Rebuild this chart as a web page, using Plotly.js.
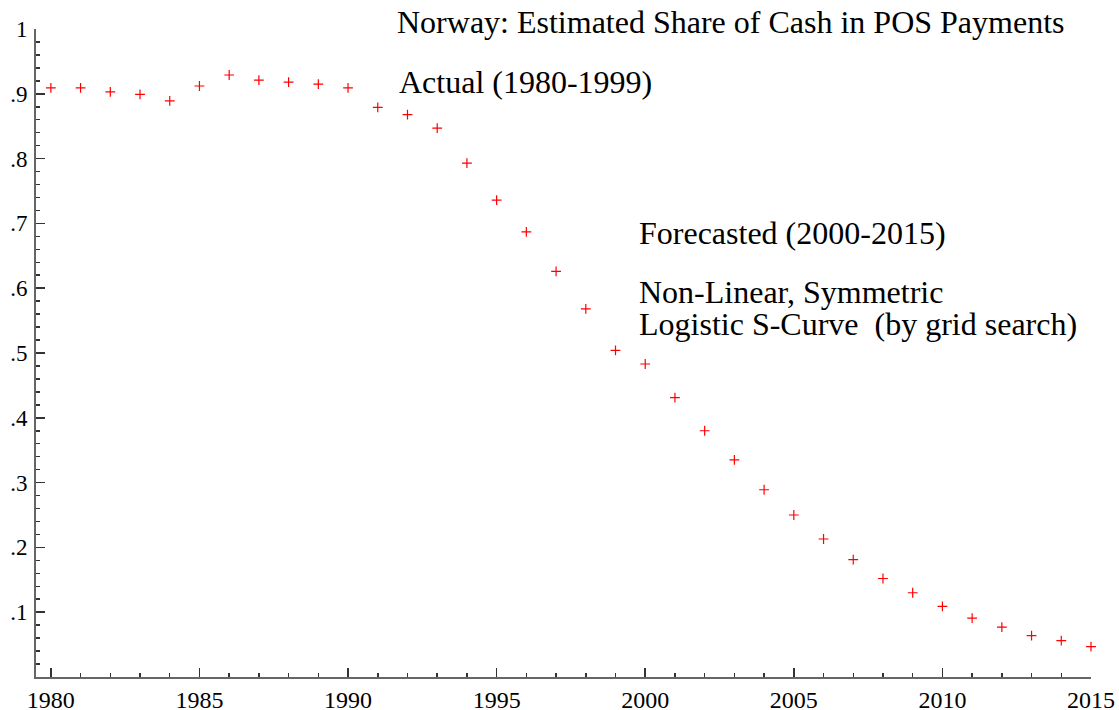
<!DOCTYPE html>
<html>
<head>
<meta charset="utf-8">
<script src="https://cdn.plot.ly/plotly-3.0.1.min.js"></script>
<style>html,body{margin:0;padding:0;background:#fff;}#chart{width:1119px;height:710px;}</style>
</head>
<body>
<div id="chart"></div>
<script>
const actualYears = [1980,1981,1982,1983,1984,1985,1986,1987,1988,1989,1990,1991,1992,1993,1994,1995,1996,1997,1998,1999];
const actualShare = [0.909,0.909,0.903,0.899,0.889,0.912,0.929,0.921,0.918,0.915,0.909,0.879,0.868,0.847,0.793,0.736,0.687,0.626,0.568,0.504];
const forecastYears = [2000,2001,2002,2003,2004,2005,2006,2007,2008,2009,2010,2011,2012,2013,2014,2015];
const forecastShare = [0.483,0.431,0.380,0.335,0.289,0.250,0.213,0.181,0.152,0.130,0.109,0.091,0.077,0.064,0.056,0.047];
const xTickVals = [1980,1985,1990,1995,2000,2005,2010,2015];
const yTickVals = [0.1,0.2,0.3,0.4,0.5,0.6,0.7,0.8,0.9,1];
const yTickText = ['.1','.2','.3','.4','.5','.6','.7','.8','.9','1'];

const FONT = "'Liberation Serif', 'Times New Roman', serif";
const marker = {symbol:'cross-thin', size:7, color:'#ff0000', line:{color:'#ff0000', width:1.2}};

const traces = [
  {x: actualYears, y: actualShare, type:'scatter', mode:'markers', name:'Actual (1980-1999)', marker: marker, cliponaxis:false},
  {x: forecastYears, y: forecastShare, type:'scatter', mode:'markers', name:'Forecasted (2000-2015)', marker: marker, cliponaxis:false}
];

const axisCommon = {
  showgrid:false, zeroline:false, showline:true, linecolor:'#666', linewidth:2,
  ticks:'inside', ticklen:9, tickwidth:1.5, tickcolor:'#333'
};

const layout = {
  width:1119, height:710,
  margin:{l:36, r:28, t:29, b:33},
  paper_bgcolor:'#fff', plot_bgcolor:'#fff',
  showlegend:false,
  font:{family:FONT, color:'#000'},
  title:{text:'Norway: Estimated Share of Cash in POS Payments', font:{family:FONT, size:32, color:'#000'},
         x:397/1119, xanchor:'left', xref:'container', y:1-22/710, yanchor:'middle', yref:'container'},
  xaxis: Object.assign({}, axisCommon, {
    range:[1979.5, 2015], tickmode:'array', tickvals:xTickVals, ticklabelstandoff:0,
    tickfont:{family:FONT, size:24, color:'#000'},
    minor:{dtick:1, tick0:1980, ticks:'inside', ticklen:4, tickwidth:1.5, tickcolor:'#333', showgrid:false}
  }),
  yaxis: Object.assign({}, axisCommon, {
    range:[0, 1], tickmode:'array', tickvals:yTickVals, ticktext:yTickText, ticklabelstandoff:2,
    tickfont:{family:FONT, size:23, color:'#000'},
    minor:{dtick:0.02, tick0:0, ticks:'inside', ticklen:4, tickwidth:1.5, tickcolor:'#333', showgrid:false}
  }),
  annotations:[
    {text:'Actual (1980-1999)', xref:'paper', yref:'paper', x:(397-36)/1055, y:(677-82)/648, xanchor:'left', yanchor:'middle', showarrow:false, font:{family:FONT, size:32, color:'#000'}},
    {text:'Forecasted (2000-2015)', xref:'paper', yref:'paper', x:(637-36)/1055, y:(677-233)/648, xanchor:'left', yanchor:'middle', showarrow:false, font:{family:FONT, size:32, color:'#000'}},
    {text:'Non-Linear, Symmetric', xref:'paper', yref:'paper', x:(637-36)/1055, y:(677-292)/648, xanchor:'left', yanchor:'middle', showarrow:false, font:{family:FONT, size:32, color:'#000'}},
    {text:'Logistic S-Curve&nbsp; (by grid search)', xref:'paper', yref:'paper', x:(637-36)/1055, y:(677-324)/648, xanchor:'left', yanchor:'middle', showarrow:false, font:{family:FONT, size:32, color:'#000'}}
  ]
};

Plotly.newPlot('chart', traces, layout, {displayModeBar:false, staticPlot:true});
</script>
</body>
</html>
